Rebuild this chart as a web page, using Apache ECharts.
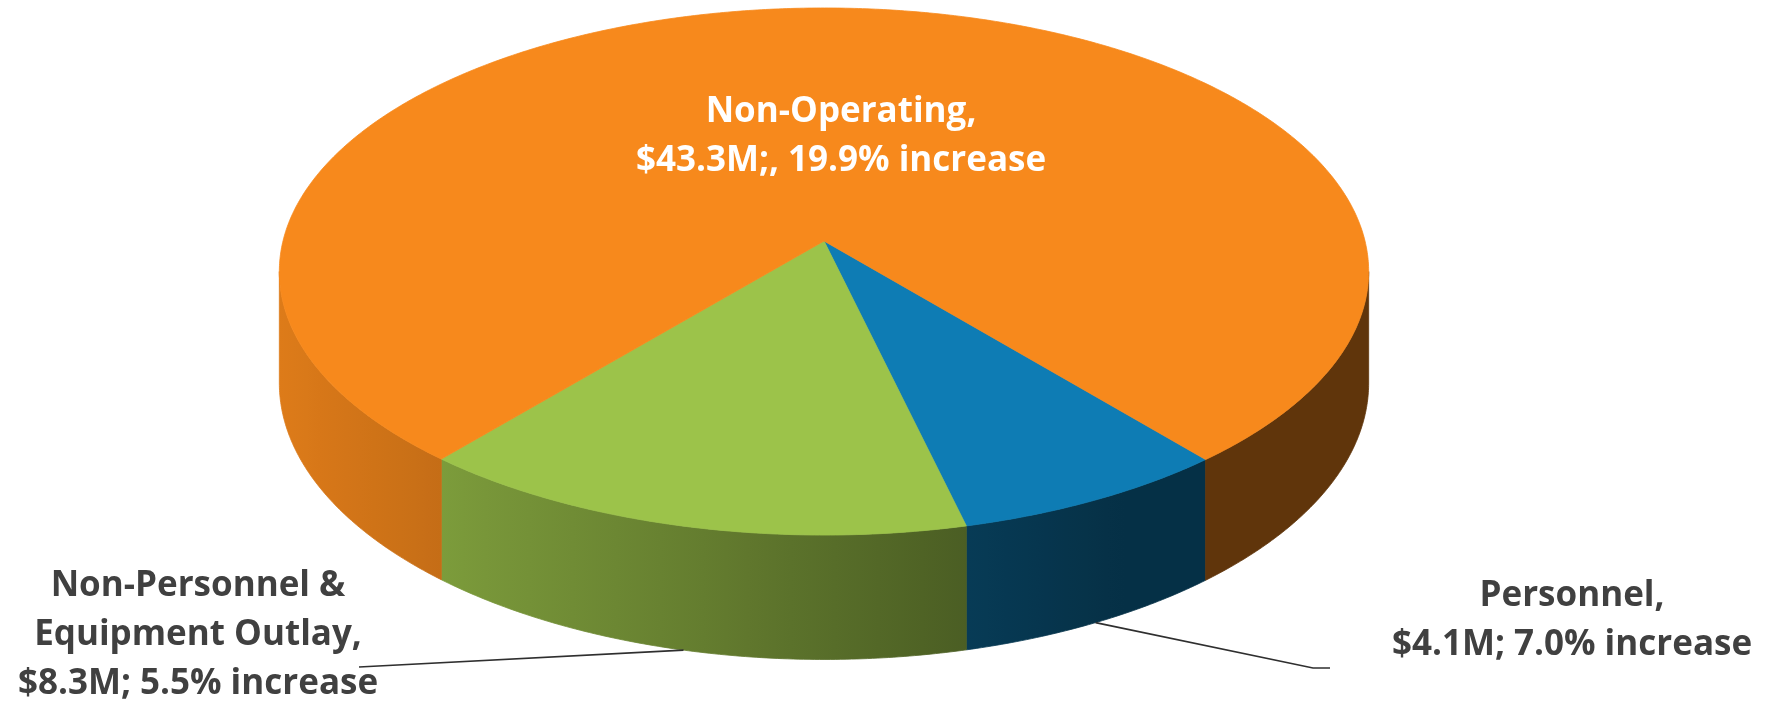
<!DOCTYPE html>
<html>
<head>
<meta charset="utf-8">
<script src="https://cdn.jsdelivr.net/npm/echarts@6/dist/echarts.min.js"></script>
<style>
  html, body { margin: 0; padding: 0; background: #ffffff; }
  #chart { width: 1767px; height: 702px; }
</style>
</head>
<body>
<div id="chart"></div>
<script>
// ---- data ----
const categories = ['Personnel', 'Non-Personnel & Equipment Outlay', 'Non-Operating'];
const amountsM = [4.1, 8.3, 43.3];          // $ millions
const increasePct = [7.0, 5.5, 19.9];       // % increase
const amountSeparators = ['; ', '; ', ';, '];

// ---- presentation ----
const sliceColors = ['#0E7CB4', '#9CC34A', '#F7891C'];
const labelNames = ['Personnel,', 'Non-Personnel &\nEquipment Outlay,', 'Non-Operating,'];
const labelLayout = [
  { x: 1572, y: 621, fill: '#404040', leaderTo: [[1313, 668], [1330, 668]] },
  { x: 198,  y: 635, fill: '#404040', leaderTo: [[359, 667]] },
  { x: 841,  y: 137, fill: '#ffffff', leaderTo: null }
];
// tilted disk seen in perspective: centre, radii, perspective factor, thickness
const disk = { cx: 824, cy: 241, rx: 541, ry: 260, persp: 0.1158, depth: 110, startDeg: 50 };
const labelFont = 'bold 35px "Open Sans"';
const labelLineHeight = 49;

const total = amountsM.reduce((a, b) => a + b, 0);
const sliceAngles = [];
(function () {
  let acc = 0;
  amountsM.forEach(v => {
    const a0 = disk.startDeg + acc / total * 360;
    acc += v;
    sliceAngles.push([a0, disk.startDeg + acc / total * 360]);
  });
})();

function rimPoint(deg, bottom) {
  const t = deg * Math.PI / 180;
  const s = Math.sin(t), c = Math.cos(t);
  const w = 1 - disk.persp * s;
  return [disk.cx + disk.rx * c / w, disk.cy + disk.ry * s / w + (bottom ? disk.depth / w : 0)];
}

function arcPoints(a0, a1, bottom) {
  const pts = [];
  const n = Math.max(2, Math.ceil(Math.abs(a1 - a0) / 0.5));
  for (let i = 0; i <= n; i++) pts.push(rimPoint(a0 + (a1 - a0) * i / n, bottom));
  return pts;
}

function hexToRgb(hex) {
  const n = parseInt(hex.slice(1), 16);
  return [(n >> 16) & 255, (n >> 8) & 255, n & 255];
}
function shade(hex, f) {
  const c = hexToRgb(hex).map(v => Math.round(Math.min(255, v * f)));
  return 'rgb(' + c.join(',') + ')';
}
// side brightness: lit from the left, darker towards the right
function sideLight(x) {
  const t = (x - disk.cx) / (disk.rx * 1.0067);
  return Math.max(0.39, 0.566 - 0.33 * t);
}

const frontLo = Math.asin(disk.persp) * 180 / Math.PI;
const frontHi = 180 - frontLo;

function renderSide(params, api) {
  const i = params.dataIndex;
  const [a0, a1] = sliceAngles[i];
  const children = [];
  for (let m = -1; m <= 1; m++) {
    const lo = Math.max(a0, frontLo + 360 * m);
    const hi = Math.min(a1, frontHi + 360 * m);
    if (hi <= lo) continue;
    const top = arcPoints(lo, hi, false);
    const bot = arcPoints(lo, hi, true).reverse();
    const pts = top.concat(bot);
    const xs = pts.map(p => p[0]);
    const x0 = Math.min(...xs), x1 = Math.max(...xs);
    const stops = [];
    for (let s = 0; s <= 12; s++) {
      const x = x0 + (x1 - x0) * s / 12;
      stops.push({ offset: s / 12, color: shade(sliceColors[i], sideLight(x)) });
    }
    const grad = new echarts.graphic.LinearGradient(x0, 0, x1, 0, stops, true);
    children.push({
      type: 'polygon',
      shape: { points: pts },
      style: { fill: grad, stroke: grad, lineWidth: 0.8 }
    });
  }
  return { type: 'group', children };
}

function renderTop(params, api) {
  const i = params.dataIndex;
  const [a0, a1] = sliceAngles[i];
  const apex = [disk.cx, disk.cy];
  const pts = [apex].concat(arcPoints(a0, a1, false));
  const children = [{
    type: 'polygon',
    z2: 1,
    shape: { points: pts },
    style: { fill: sliceColors[i], stroke: sliceColors[i], lineWidth: 0.8 }
  }];
  const lay = labelLayout[i];
  if (lay.leaderTo) {
    const start = rimPoint((a0 + a1) / 2, true);
    children.push({
      type: 'polyline',
      z2: 5,
      shape: { points: [start].concat(lay.leaderTo) },
      style: { stroke: '#2f2f2f', lineWidth: 1.6, fill: null }
    });
  }
  const text = labelNames[i] + '\n$' + amountsM[i].toFixed(1) + 'M' + amountSeparators[i] +
               increasePct[i].toFixed(1) + '% increase';
  children.push({
    type: 'text',
    z2: 10,
    style: {
      text: text,
      x: lay.x,
      y: lay.y,
      align: 'center',
      verticalAlign: 'middle',
      font: labelFont,
      lineHeight: labelLineHeight,
      fill: lay.fill
    }
  });
  return { type: 'group', children };
}

const chart = echarts.init(document.getElementById('chart'), null, { renderer: 'canvas' });
chart.setOption({
  animation: false,
  backgroundColor: '#ffffff',
  series: [
    {
      type: 'custom',
      name: 'sides',
      coordinateSystem: 'none',
      z: 1,
      silent: true,
      data: amountsM.map((v, i) => ({ name: categories[i], value: v })),
      renderItem: renderSide
    },
    {
      type: 'custom',
      name: 'tops',
      coordinateSystem: 'none',
      z: 2,
      silent: true,
      data: amountsM.map((v, i) => ({ name: categories[i], value: v })),
      renderItem: renderTop
    }
  ]
});
</script>
</body>
</html>
